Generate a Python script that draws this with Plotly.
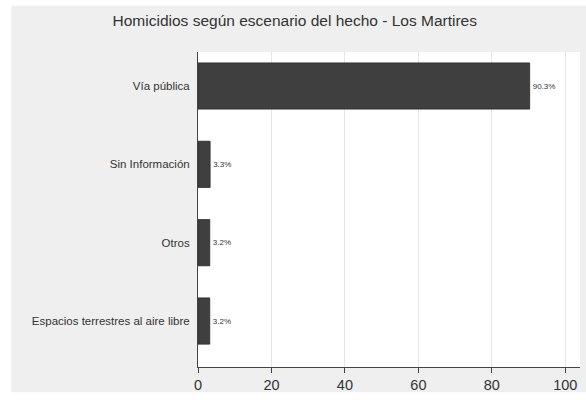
import plotly.graph_objects as go

# Datos (de abajo hacia arriba)
categorias = ["Espacios terrestres al aire libre", "Otros", "Sin Información", "Vía pública"]
porcentajes = [3.2, 3.2, 3.3, 90.3]
etiquetas = ["3.2%", "3.2%", "3.3%", "90.3%"]
ticks_x = [0, 20, 40, 60, 80, 100]

fig = go.Figure()

fig.add_trace(go.Bar(
    x=porcentajes,
    y=categorias,
    orientation="h",
    width=0.59,
    marker=dict(color="#3f3f3f", line=dict(color="#2a2a2a", width=0.8)),
    text=etiquetas,
    textposition="outside",
    textfont=dict(size=8, color="#333333"),
    cliponaxis=False,
    showlegend=False,
))

# Panel gris de fondo (estilo Stata) y zona del gráfico en blanco
fig.add_shape(type="rect", xref="paper", yref="paper",
              x0=-0.489, x1=1.05, y0=-0.08, y1=1.147,
              fillcolor="#efefef", line=dict(width=0), layer="below")
fig.add_shape(type="rect", xref="paper", yref="paper",
              x0=0, x1=1, y0=0, y1=1,
              fillcolor="white", line=dict(width=0), layer="below")

fig.update_layout(
    width=586, height=402,
    margin=dict(l=198, r=6, t=52, b=35, autoexpand=False),
    paper_bgcolor="white",
    plot_bgcolor="white",
    font=dict(family="Liberation Sans, Arial, sans-serif", color="#333333"),
    title=dict(text="Homicidios según escenario del hecho - Los Martires",
               x=0.503, xanchor="center", y=1 - 21 / 402, yanchor="middle",
               font=dict(size=15.5, color="#333333")),
    bargap=0.4,
)

fig.update_xaxes(
    range=[0, 104], tickvals=ticks_x, automargin=False,
    showgrid=True, gridcolor="#e6e6e6", gridwidth=1,
    showline=True, linecolor="#444444", linewidth=1,
    ticks="outside", ticklen=5, tickcolor="#444444",
    tickfont=dict(size=14.5, color="#333333"),
    zeroline=False,
)
fig.update_yaxes(
    type="category", categoryorder="array", categoryarray=categorias,
    range=[-0.587, 3.434], automargin=False,
    showgrid=False,
    showline=True, linecolor="#444444", linewidth=1,
    ticks="", ticklabelstandoff=5,
    tickfont=dict(size=11.5, color="#333333"),
)

fig.write_html("out.html", config={"displayModeBar": False},
               post_script="document.body.style.margin='0';")
